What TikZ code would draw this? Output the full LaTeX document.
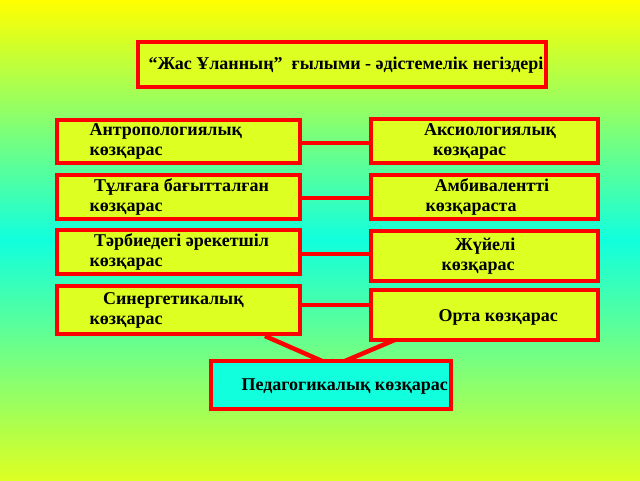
\documentclass[tikz,border=0pt]{standalone}
\usepackage{fontspec}
\setmainfont{Liberation Serif}
\begin{document}
\begin{tikzpicture}[x=1pt,y=-1pt,
 box/.style={draw=red,line width=4pt,fill=boxfill},
 lbl/.style={font=\bfseries\fontsize{18}{20}\selectfont,align=left,anchor=west},
 link/.style={draw=red,line width=4.5pt}]
\definecolor{boxfill}{HTML}{DDFF22}
\definecolor{topc}{HTML}{FFFF00}
\definecolor{midc}{HTML}{11FFDD}
\definecolor{botc}{HTML}{DDFF22}
\useasboundingbox (0,0) rectangle (640,480);
\shade[top color=topc,bottom color=midc] (0,0) rectangle (640,240);
\shade[top color=midc,bottom color=botc] (0,240) rectangle (640,480);
% links
\draw[link] (300,143) -- (371,143);
\draw[link] (300,198) -- (371,198);
\draw[link] (300,254) -- (371,254);
\draw[link] (300,305) -- (371,305);
\draw[link] (265,336) -- (322,361);
\draw[link] (397,339) -- (345,361);
% boxes
\draw[box] (138,42) rectangle (546,87);
\node[lbl] (t) at (145,65) {“Жас Ұланның”\ \ ғылыми - әдістемелік негіздері};
\draw[box] (57,120) rectangle (300,163);
\node[lbl] (a1) at (86,141) {Антропологиялық\\көзқарас};
\draw[box] (57,175) rectangle (300,219);
\node[lbl] (a2) at (86,197) {\ Тұлғаға бағытталған\\көзқарас};
\draw[box] (57,230) rectangle (300,274);
\node[lbl] (a3) at (86,252) {\ Тәрбиедегі әрекетшіл\\көзқарас};
\draw[box] (57,286) rectangle (300,334);
\node[lbl] (a4) at (86,310) {\ \ \ Синергетикалық\\көзқарас};
\draw[box] (371,119) rectangle (598,163);
\node[lbl] (b1) at (416,141) {\ Аксиологиялық\\\ \ \ көзқарас};
\draw[box] (371,175) rectangle (598,219);
\node[lbl] (b2) at (422,197) {\ \ Амбиваленттi\\көзқараста};
\draw[box] (371,231) rectangle (598,281);
\node[lbl] (b3) at (438,256) {\ \ \ Жүйелі\\көзқарас};
\draw[box] (371,290) rectangle (598,340);
\node[lbl] (b4) at (435,317) {Орта көзқарас};
\draw[box,fill=midc] (211,361) rectangle (451,409);
\node[lbl] (p) at (238,387) {Педагогикалық көзқарас};
\end{tikzpicture}
\end{document}
